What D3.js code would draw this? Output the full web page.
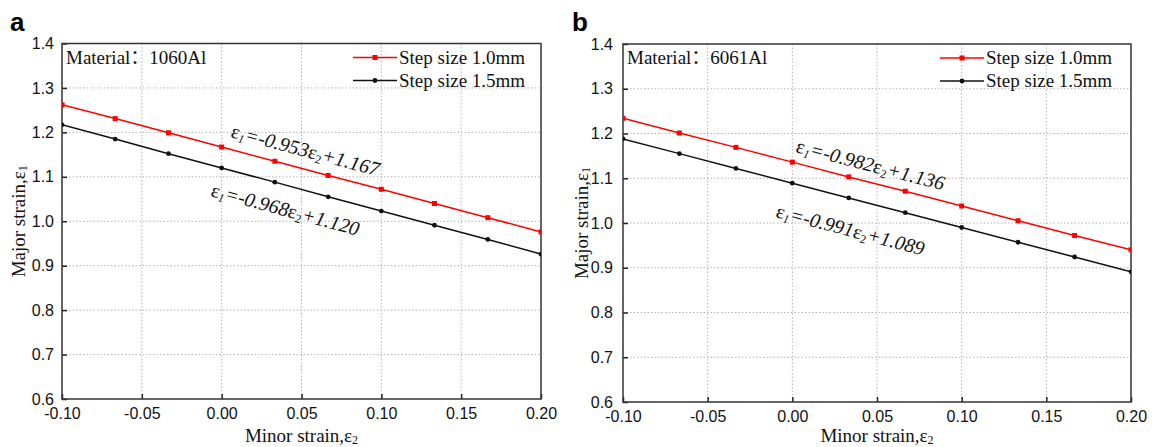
<!DOCTYPE html>
<html><head><meta charset="utf-8">
<script src="https://cdn.jsdelivr.net/npm/d3@7"></script>
<style>
body{margin:0;background:#fff;}
svg{display:block;}
</style></head>
<body>
<svg id="chart" width="1152" height="447"></svg>
<script>
// ---- data ----
const strainX = [-0.1, -0.0667, -0.0333, 0, 0.0333, 0.0667, 0.1, 0.1333, 0.1667, 0.2];
const a_step10 = [1.262, 1.231, 1.199, 1.167, 1.135, 1.103, 1.072, 1.040, 1.008, 0.976];
const a_step15 = [1.217, 1.185, 1.152, 1.120, 1.088, 1.055, 1.023, 0.991, 0.959, 0.926];
const b_step10 = [1.234, 1.201, 1.169, 1.136, 1.103, 1.071, 1.038, 1.005, 0.972, 0.940];
const b_step15 = [1.188, 1.155, 1.122, 1.089, 1.056, 1.023, 0.990, 0.957, 0.924, 0.891];
const xTicks = [-0.10, -0.05, 0.00, 0.05, 0.10, 0.15, 0.20];
const xTickLabels = ["-0.10", "-0.05", "0.00", "0.05", "0.10", "0.15", "0.20"];
const yTicks = [0.6, 0.7, 0.8, 0.9, 1.0, 1.1, 1.2, 1.3, 1.4];
const yTickLabels = ["0.6", "0.7", "0.8", "0.9", "1.0", "1.1", "1.2", "1.3", "1.4"];
const seriesNames = ["Step size 1.0mm", "Step size 1.5mm"];
const eqA = [{slope:"-0.953", icpt:"+1.167"}, {slope:"-0.968", icpt:"+1.120"}];
const eqB = [{slope:"-0.982", icpt:"+1.136"}, {slope:"-0.991", icpt:"+1.089"}];

const svg = d3.select("#chart");
const serif = "'Liberation Serif','Times New Roman',serif";
const serifCJK = "'Liberation Serif','Noto Sans CJK SC',serif";
const sans = "'Liberation Sans',Arial,sans-serif";

function panel(cfg){
  const g = svg.append("g");
  const x = d3.scaleLinear().domain([-0.1, 0.2]).range([cfg.left, cfg.right]);
  const y = d3.scaleLinear().domain([0.6, 1.4]).range([cfg.bottom, cfg.top]);
  const clipId = "clip" + cfg.label;
  svg.append("clipPath").attr("id", clipId).append("rect")
    .attr("x", cfg.left).attr("y", cfg.top).attr("width", cfg.right-cfg.left).attr("height", cfg.bottom-cfg.top);

  // grid
  g.selectAll(".gx").data(xTicks.slice(1,-1)).join("line")
    .attr("x1", d=>x(d)).attr("x2", d=>x(d)).attr("y1", cfg.top).attr("y2", cfg.bottom)
    .attr("stroke", "#b5b5b5").attr("stroke-width", 1).attr("stroke-dasharray", "1.5,2");
  g.selectAll(".gy").data(yTicks.slice(1,-1)).join("line")
    .attr("y1", d=>y(d)).attr("y2", d=>y(d)).attr("x1", cfg.left).attr("x2", cfg.right)
    .attr("stroke", "#b5b5b5").attr("stroke-width", 1).attr("stroke-dasharray", "1.5,2");

  // axes
  const xAx = g.append("g").attr("transform", `translate(0,${cfg.bottom})`)
    .call(d3.axisBottom(x).tickValues(xTicks).tickFormat((d,i)=>xTickLabels[i]).tickSizeInner(-5).tickSizeOuter(0).tickPadding(9));
  const yAx = g.append("g").attr("transform", `translate(${cfg.left},0)`)
    .call(d3.axisLeft(y).tickValues(yTicks).tickFormat((d,i)=>yTickLabels[i]).tickSizeInner(-5).tickSizeOuter(0).tickPadding(cfg.ypad));
  [xAx, yAx].forEach(a=>{
    a.select(".domain").remove();
    a.selectAll(".tick line").attr("stroke", "#222").attr("stroke-width", 1.5);
    a.selectAll(".tick text").attr("font-family", sans).attr("font-size", 16).attr("fill", "#111");
  });
  // frame
  g.append("rect").attr("x", cfg.left).attr("y", cfg.top)
    .attr("width", cfg.right-cfg.left).attr("height", cfg.bottom-cfg.top)
    .attr("fill", "none").attr("stroke", "#333").attr("stroke-width", 1.5);

  // series
  const line = d3.line().x((d,i)=>x(strainX[i])).y(d=>y(d));
  const colors = ["#ff0000", "#111111"];
  const cg = g.append("g").attr("clip-path", `url(#${clipId})`);
  cfg.series.forEach((s, k)=>{
    cg.append("path").datum(s).attr("d", line).attr("fill","none")
      .attr("stroke", colors[k]).attr("stroke-width", 1.5);
    if(k===0){
      cg.selectAll(".m"+k).data(s).join("rect")
        .attr("x",(d,i)=>x(strainX[i])-2.5).attr("y",d=>y(d)-2.5)
        .attr("width",5).attr("height",5).attr("fill",colors[k]);
    } else {
      cg.selectAll(".m"+k).data(s).join("circle")
        .attr("cx",(d,i)=>x(strainX[i])).attr("cy",d=>y(d)).attr("r",2.4).attr("fill",colors[k]);
    }
  });

  // equations
  cfg.eqs.forEach((e,k)=>{
    const s = cfg.series[k];
    const x0 = strainX[0], x1 = strainX[strainX.length-1];
    const ang = Math.atan2(y(s[s.length-1]) - y(s[0]), x(x1) - x(x0)) * 180/Math.PI;
    const t = g.append("text")
      .attr("transform", `translate(${cfg.eqPos[k][0]},${cfg.eqPos[k][1]}) rotate(${ang})`)
      .attr("font-family", serif).attr("font-size", 20).attr("fill", "#111");
    t.append("tspan").text("ε");
    t.append("tspan").attr("font-size", 12).attr("font-style","italic").attr("dy", 3).text("1");
    t.append("tspan").attr("font-style","italic").attr("dy", -3).text("=" + e.slope);
    t.append("tspan").text("ε");
    t.append("tspan").attr("font-size", 12).attr("dy", 3).text("2");
    t.append("tspan").attr("font-style","italic").attr("dy", -3).text(e.icpt);
  });

  // material
  g.append("text").attr("x", cfg.left+4).attr("y", cfg.top+20)
    .attr("font-family", serifCJK).attr("font-size", 19).attr("fill","#111")
    .text("Material：" + cfg.material);

  // legend
  seriesNames.forEach((n,k)=>{
    const ly = cfg.top + 14 + k*23;
    const lx = cfg.legX;
    g.append("line").attr("x1", lx).attr("x2", lx+44).attr("y1", ly).attr("y2", ly)
      .attr("stroke", colors[k]).attr("stroke-width", 1.5);
    if(k===0) g.append("rect").attr("x", lx+22-2.5).attr("y", ly-2.5).attr("width",5).attr("height",5).attr("fill",colors[k]);
    else g.append("circle").attr("cx", lx+22).attr("cy", ly).attr("r",2.4).attr("fill",colors[k]);
    g.append("text").attr("x", lx+46).attr("y", ly+6)
      .attr("font-family", serif).attr("font-size", 19).attr("fill","#111").text(n);
  });

  // axis titles
  const xt = g.append("text").attr("x", (cfg.left+cfg.right)/2).attr("y", 442)
    .attr("text-anchor","middle").attr("font-family", serif).attr("font-size", 19).attr("fill","#111");
  xt.append("tspan").text("Minor strain,ε");
  xt.append("tspan").attr("font-size", 12).attr("dy", 2).text("2");
  const yt = g.append("text").attr("transform", `translate(${cfg.ytitleX},${(cfg.top+cfg.bottom)/2}) rotate(-90)`)
    .attr("text-anchor","middle").attr("font-family", serif).attr("font-size", 19).attr("fill","#111");
  yt.append("tspan").text("Major strain,ε");
  yt.append("tspan").attr("font-size", 12).attr("dy", 2).text("1");

  // panel label
  g.append("text").attr("x", cfg.labelX).attr("y", 31)
    .attr("font-family", sans).attr("font-weight","bold").attr("font-size", 26).attr("fill","#000")
    .text(cfg.label);
}

panel({label:"a", labelX:10, left:62, right:541, top:43.5, bottom:399, ypad:8, ytitleX:25,
  series:[a_step10, a_step15], eqs:eqA, eqPos:[[230,137],[210,196]],
  material:"1060Al", legX:353});
panel({label:"b", labelX:572, left:623, right:1131, top:44, bottom:402, ypad:10, ytitleX:588,
  series:[b_step10, b_step15], eqs:eqB, eqPos:[[795,152],[775,217]],
  material:"6061Al", legX:940});
</script>
</body></html>
